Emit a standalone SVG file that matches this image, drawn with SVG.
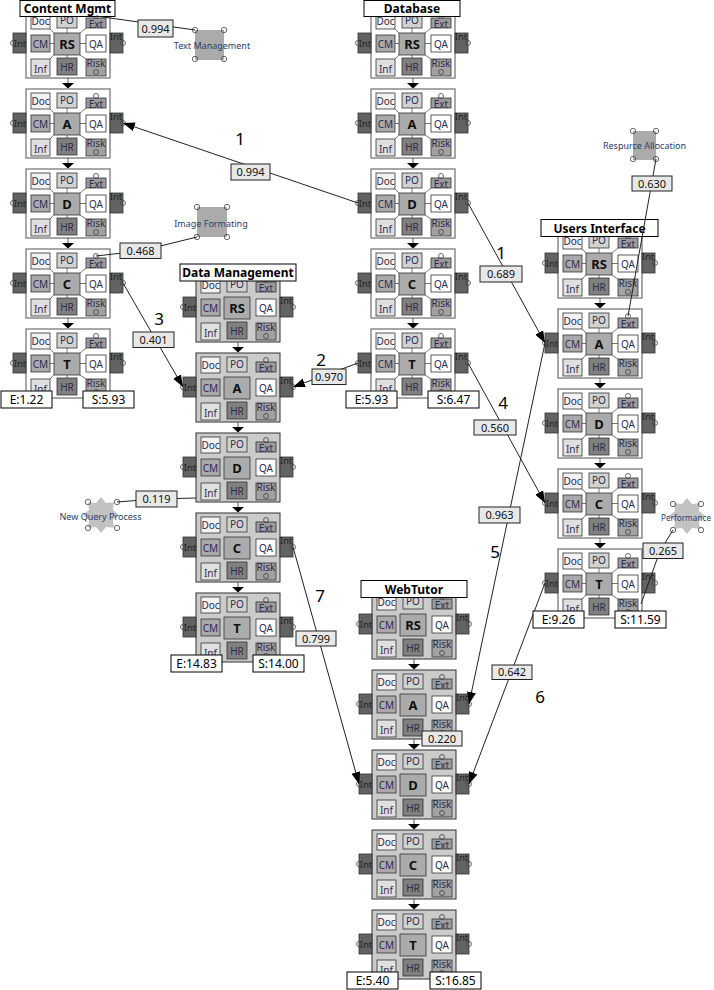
<svg xmlns="http://www.w3.org/2000/svg" xmlns:xlink="http://www.w3.org/1999/xlink" width="714" height="990" viewBox="0 0 714 990">
<style>
text{font-family:"Noto Sans","DejaVu Sans",sans-serif}
.nbW{fill:#fff;stroke:#8a8a8a;stroke-width:1.5}
.nbG{fill:#cbcbcb;stroke:#333;stroke-width:1}
.ln{stroke:#777;stroke-width:1;fill:none}
.sb{stroke:#333;stroke-width:0.8}
.doc{fill:#f2f2f2}.po{fill:#d2d2d2}.ext{fill:#9c9c9c}.cm{fill:#a9a9a9}.cb{fill:#ababab}.qa{fill:#fff}.inf{fill:#e0e0e0}.hr{fill:#808080}.risk{fill:#a2a2a2}.int{fill:#626262}
.st{font-size:10px;fill:#2e2c4e;text-anchor:middle}
.it{font-size:9.5px;fill:#262626;text-anchor:middle}
.cl{font-size:13px;font-weight:bold;fill:#111;text-anchor:middle}
.pc{fill:none;stroke:#444;stroke-width:0.8}
.ttl{fill:#fff;stroke:#000;stroke-width:1}
.tt{font-size:12px;font-weight:bold;fill:#000;text-anchor:middle}
.es{fill:#fff;stroke:#000;stroke-width:1}
.et{font-size:12px;fill:#000;text-anchor:middle}
.lb{fill:#e8e8e8;stroke:#222;stroke-width:1}
.lt{font-size:11px;fill:#111;text-anchor:middle}
.num{font-size:17px;fill:#000;text-anchor:middle}
.edge{stroke:#222;stroke-width:1;fill:none}
.ea{stroke:#222;stroke-width:1;fill:none;marker-end:url(#ah)}
.sq{fill:#ababab}
.str{fill:#c2c2c2}
.ot{font-size:9px;fill:#2b3d66;text-anchor:middle}
.ar{fill:#000}
.nl{stroke:#555;stroke-width:1}
</style>
<defs>
<marker id="ah" markerUnits="userSpaceOnUse" markerWidth="13" markerHeight="10" refX="12" refY="4.5" orient="auto">
<path d="M0,0 L12,4.5 L0,9 z" fill="#000"/>
</marker>
<path id="star" d="M18,0 L12.01,4.97 L12.73,12.73 L4.97,12.01 L0,18 L-4.97,12.01 L-12.73,12.73 L-12.01,4.97 L-18,0 L-12.01,-4.97 L-12.73,-12.73 L-4.97,-12.01 L0,-18 L4.97,-12.01 L12.73,-12.73 L12.01,-4.97 Z"/>
<g id="parts">
<rect class="sb doc" x="5" y="4" width="19" height="16"/>
<rect class="sb po" x="31" y="4" width="20" height="15"/>
<rect class="sb ext" x="60" y="9" width="20" height="10"/>
<rect class="sb cm" x="5" y="26" width="19" height="17"/>
<rect class="sb cb" x="28" y="24" width="26" height="22"/>
<rect class="sb qa" x="60" y="26" width="20" height="17"/>
<rect class="sb inf" x="5" y="50" width="19" height="17"/>
<rect class="sb hr" x="31" y="49" width="20" height="17"/>
<rect class="sb risk" x="60" y="50" width="20" height="17"/>
<rect class="sb int" x="-13" y="24" width="13" height="20"/>
<rect class="sb int" x="84" y="24" width="13" height="20"/>
<text class="st" x="14.5" y="16">Doc</text>
<text class="st" x="41" y="15">PO</text>
<text class="st" x="70" y="18.5">Ext</text>
<text class="st" x="14.5" y="38.5">CM</text>
<text class="st" x="70" y="38.5">QA</text>
<text class="st" x="14.5" y="63.5">Inf</text>
<text class="st" x="41" y="61.5">HR</text>
<text class="st" x="70" y="58">Risk</text>
<text class="it" x="-6" y="38">Int</text>
<text class="it" x="90" y="31">Int</text>
<circle class="pc" cx="70" cy="7" r="2.5"/>
<circle class="pc" cx="70" cy="63" r="2.5"/>
<circle class="pc" cx="-13" cy="34" r="2.5"/>
<circle class="pc" cx="97" cy="34" r="2.5"/>
</g>
<g id="nodeW">
<rect class="nbW" x="0" y="0" width="84" height="69"/>
<path class="ln" d="M41,19V24 M41,46V49 M24,34.5H28 M54,34.5H60 M24,20L28,24 M60,19L54,24 M24,50L28,46 M60,50L54,46"/>
<use xlink:href="#parts"/>
</g>
<g id="nodeG">
<rect class="nbG" x="0" y="0" width="84" height="69"/>
<use xlink:href="#parts"/>
</g>
<g id="step">
<line class="nl" x1="42" y1="69" x2="42" y2="75"/>
<path class="ar" d="M36,74 L48,74 L42,79.5 z"/>
</g>
</defs>
<rect x="0" y="0" width="714" height="990" fill="#fff"/>

<!-- Content Mgmt -->
<g id="cm-rs" transform="translate(26,9)"><use xlink:href="#nodeW"/><text class="cl" x="41" y="40">RS</text><use xlink:href="#step"/></g>
<g id="cm-a" transform="translate(26,89)"><use xlink:href="#nodeW"/><text class="cl" x="41" y="40">A</text><use xlink:href="#step"/></g>
<g id="cm-d" transform="translate(26,169)"><use xlink:href="#nodeW"/><text class="cl" x="41" y="40">D</text><use xlink:href="#step"/></g>
<g id="cm-c" transform="translate(26,249)"><use xlink:href="#nodeW"/><text class="cl" x="41" y="40">C</text><use xlink:href="#step"/></g>
<g id="cm-t" transform="translate(26,329)"><use xlink:href="#nodeW"/><text class="cl" x="41" y="40">T</text></g>

<!-- Database -->
<g id="db-rs" transform="translate(371,9)"><use xlink:href="#nodeW"/><text class="cl" x="41" y="40">RS</text><use xlink:href="#step"/></g>
<g id="db-a" transform="translate(371,89)"><use xlink:href="#nodeW"/><text class="cl" x="41" y="40">A</text><use xlink:href="#step"/></g>
<g id="db-d" transform="translate(371,169)"><use xlink:href="#nodeW"/><text class="cl" x="41" y="40">D</text><use xlink:href="#step"/></g>
<g id="db-c" transform="translate(371,249)"><use xlink:href="#nodeW"/><text class="cl" x="41" y="40">C</text><use xlink:href="#step"/></g>
<g id="db-t" transform="translate(371,329)"><use xlink:href="#nodeW"/><text class="cl" x="41" y="40">T</text></g>

<!-- Data Management -->
<g id="dm-rs" transform="translate(196,273)"><use xlink:href="#nodeG"/><text class="cl" x="41" y="40">RS</text><use xlink:href="#step"/></g>
<g id="dm-a" transform="translate(196,353)"><use xlink:href="#nodeG"/><text class="cl" x="41" y="40">A</text><use xlink:href="#step"/></g>
<g id="dm-d" transform="translate(196,433)"><use xlink:href="#nodeG"/><text class="cl" x="41" y="40">D</text><use xlink:href="#step"/></g>
<g id="dm-c" transform="translate(196,513)"><use xlink:href="#nodeG"/><text class="cl" x="41" y="40">C</text><use xlink:href="#step"/></g>
<g id="dm-t" transform="translate(196,593)"><use xlink:href="#nodeG"/><text class="cl" x="41" y="40">T</text></g>

<!-- Users Interface -->
<g id="ui-rs" transform="translate(558,229)"><use xlink:href="#nodeW"/><text class="cl" x="41" y="40">RS</text><use xlink:href="#step"/></g>
<g id="ui-a" transform="translate(558,309)"><use xlink:href="#nodeW"/><text class="cl" x="41" y="40">A</text><use xlink:href="#step"/></g>
<g id="ui-d" transform="translate(558,389)"><use xlink:href="#nodeW"/><text class="cl" x="41" y="40">D</text><use xlink:href="#step"/></g>
<g id="ui-c" transform="translate(558,469)"><use xlink:href="#nodeW"/><text class="cl" x="41" y="40">C</text><use xlink:href="#step"/></g>
<g id="ui-t" transform="translate(558,549)"><use xlink:href="#nodeW"/><text class="cl" x="41" y="40">T</text></g>

<!-- WebTutor -->
<g id="wt-rs" transform="translate(372,590)"><use xlink:href="#nodeG"/><text class="cl" x="41" y="40">RS</text><use xlink:href="#step"/></g>
<g id="wt-a" transform="translate(372,670)"><use xlink:href="#nodeG"/><text class="cl" x="41" y="40">A</text><use xlink:href="#step"/></g>
<g id="wt-d" transform="translate(372,750)"><use xlink:href="#nodeG"/><text class="cl" x="41" y="40">D</text><use xlink:href="#step"/></g>
<g id="wt-c" transform="translate(372,830)"><use xlink:href="#nodeG"/><text class="cl" x="41" y="40">C</text><use xlink:href="#step"/></g>
<g id="wt-t" transform="translate(372,910)"><use xlink:href="#nodeG"/><text class="cl" x="41" y="40">T</text></g>

<!-- Titles -->
<g id="title-cm"><rect class="ttl" x="20" y="0.5" width="95" height="16"/><text class="tt" x="67.5" y="13">Content Mgmt</text></g>
<g id="title-db"><rect class="ttl" x="364" y="0.5" width="96" height="16"/><text class="tt" x="412" y="13">Database</text></g>
<g id="title-dm"><rect class="ttl" x="180" y="264" width="116" height="17"/><text class="tt" x="238" y="277">Data Management</text></g>
<g id="title-ui"><rect class="ttl" x="541" y="219.5" width="117" height="17"/><text class="tt" x="599.5" y="232.5">Users Interface</text></g>
<g id="title-wt"><rect class="ttl" x="361" y="580.5" width="106" height="17"/><text class="tt" x="414" y="593.5">WebTutor</text></g>

<!-- External items -->
<g id="text-mgmt"><rect class="sq" x="195" y="30" width="29" height="30"/>
<circle class="pc" cx="195" cy="30" r="2.7"/><circle class="pc" cx="224" cy="30" r="2.7"/><circle class="pc" cx="195" cy="59" r="2.7"/><circle class="pc" cx="224" cy="59" r="2.7"/>
<text class="ot" x="212" y="49">Text Management</text></g>
<g id="image-fmt"><rect class="sq" x="197" y="207" width="30" height="30"/>
<circle class="pc" cx="197" cy="207" r="2.7"/><circle class="pc" cx="227" cy="207" r="2.7"/><circle class="pc" cx="197" cy="237" r="2.7"/><circle class="pc" cx="227" cy="237" r="2.7"/>
<text class="ot" x="211" y="227">Image Formating</text></g>
<g id="res-alloc"><rect class="sq" x="633" y="131" width="23" height="29"/>
<circle class="pc" cx="633" cy="131" r="2.7"/><circle class="pc" cx="656" cy="131" r="2.7"/><circle class="pc" cx="633" cy="159" r="2.7"/><circle class="pc" cx="656" cy="159" r="2.7"/>
<text class="ot" x="644.5" y="149">Respurce Allocation</text></g>
<g id="new-query"><use xlink:href="#star" class="str" transform="translate(101,515)"/>
<circle class="pc" cx="88" cy="502" r="2.7"/><circle class="pc" cx="117" cy="502" r="2.7"/><circle class="pc" cx="88" cy="528" r="2.7"/><circle class="pc" cx="117" cy="528" r="2.7"/>
<text class="ot" x="100.5" y="520">New Query Process</text></g>
<g id="performance"><use xlink:href="#star" class="str" transform="translate(687,516)"/>
<circle class="pc" cx="673" cy="504" r="2.7"/><circle class="pc" cx="701" cy="504" r="2.7"/><circle class="pc" cx="673" cy="530" r="2.7"/><circle class="pc" cx="701" cy="530" r="2.7"/>
<text class="ot" x="711" y="521" style="text-anchor:end" textLength="50" lengthAdjust="spacingAndGlyphs">Performance</text></g>

<!-- Connectors -->
<g id="connectors">
<line class="edge" x1="96" y1="16" x2="195" y2="30"/>
<polyline class="edge" points="96,256 140,251 197,237"/>
<line class="edge" x1="656" y1="159" x2="628" y2="316"/>
<polyline class="edge" points="117,502 156,499 196,498"/>
<polyline class="edge" points="673,530 660,551 641,604"/>
<line class="ea" x1="358" y1="203" x2="123" y2="123"/>
<line class="ea" x1="468" y1="203" x2="545" y2="343"/>
<line class="ea" x1="123" y1="283" x2="183" y2="387"/>
<line class="ea" x1="358" y1="363" x2="293" y2="387"/>
<line class="ea" x1="468" y1="363" x2="545" y2="503"/>
<line class="ea" x1="545" y1="343" x2="469" y2="704"/>
<line class="ea" x1="545" y1="583" x2="469" y2="784"/>
<line class="ea" x1="293" y1="547" x2="359" y2="784"/>
</g>

<!-- Edge labels -->
<g id="labels">
<rect class="lb" x="138" y="20" width="35" height="17"/><text class="lt" x="155.5" y="32.5">0.994</text>
<rect class="lb" x="120" y="243" width="41" height="15.5"/><text class="lt" x="140.5" y="255">0.468</text>
<rect class="lb" x="632" y="176" width="40" height="15"/><text class="lt" x="652" y="187.5">0.630</text>
<rect class="lb" x="136" y="491" width="41" height="16"/><text class="lt" x="156.5" y="503">0.119</text>
<rect class="lb" x="643" y="543" width="40" height="15.5"/><text class="lt" x="663" y="555">0.265</text>
<rect class="lb" x="231" y="164" width="39" height="16"/><text class="lt" x="250.5" y="176">0.994</text>
<rect class="lb" x="480" y="266" width="42" height="16"/><text class="lt" x="501" y="278">0.689</text>
<rect class="lb" x="133" y="332" width="41" height="15.5"/><text class="lt" x="153.5" y="344">0.401</text>
<rect class="lb" x="312" y="369" width="34" height="15.5"/><text class="lt" x="329" y="381">0.970</text>
<rect class="lb" x="474" y="420" width="42" height="15"/><text class="lt" x="495" y="431.5">0.560</text>
<rect class="lb" x="479" y="507" width="41" height="16"/><text class="lt" x="499.5" y="519">0.963</text>
<rect class="lb" x="492" y="665" width="40" height="14.5"/><text class="lt" x="512" y="676">0.642</text>
<rect class="lb" x="296" y="631" width="40" height="15"/><text class="lt" x="316" y="642.5">0.799</text>
<rect class="lb" x="422" y="731" width="40" height="15"/><text class="lt" x="442" y="742.5">0.220</text>
<text class="num" x="240" y="145">1</text>
<text class="num" x="501" y="259">1</text>
<text class="num" x="159" y="325">3</text>
<text class="num" x="321" y="366">2</text>
<text class="num" x="503" y="409">4</text>
<text class="num" x="495" y="558">5</text>
<text class="num" x="540" y="703">6</text>
<text class="num" x="320" y="602">7</text>
</g>

<!-- E/S labels -->
<g id="es-labels">
<rect class="es" x="1" y="391" width="51" height="17"/><text class="et" x="26.5" y="404">E:1.22</text>
<rect class="es" x="83" y="391" width="51" height="17"/><text class="et" x="108.5" y="404">S:5.93</text>
<rect class="es" x="346" y="391" width="51" height="17"/><text class="et" x="371.5" y="404">E:5.93</text>
<rect class="es" x="428" y="391" width="51" height="17"/><text class="et" x="453.5" y="404">S:6.47</text>
<rect class="es" x="171" y="655" width="51" height="17"/><text class="et" x="196.5" y="668">E:14.83</text>
<rect class="es" x="253" y="655" width="51" height="17"/><text class="et" x="278.5" y="668">S:14.00</text>
<rect class="es" x="533" y="611" width="51" height="17"/><text class="et" x="558.5" y="624">E:9.26</text>
<rect class="es" x="615" y="611" width="51" height="17"/><text class="et" x="640.5" y="624">S:11.59</text>
<rect class="es" x="347" y="972" width="51" height="17"/><text class="et" x="372.5" y="985">E:5.40</text>
<rect class="es" x="430" y="972" width="51" height="17"/><text class="et" x="455.5" y="985">S:16.85</text>
</g>
</svg>
